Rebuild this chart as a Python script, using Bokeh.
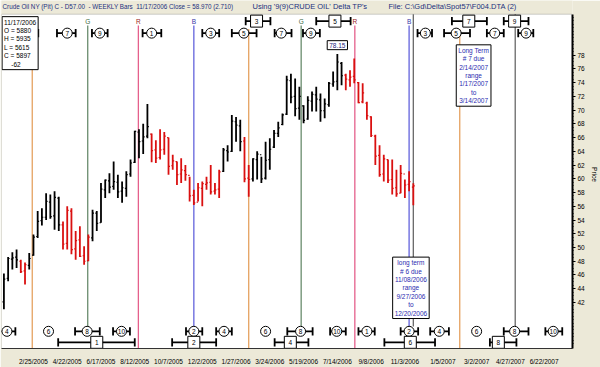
import pandas as pd
from bokeh.plotting import figure
from bokeh.models import Label, FixedTicker, Range1d, BoxAnnotation
from bokeh.core.properties import value
from bokeh.embed import file_html
from bokeh.resources import INLINE

FONT = "Liberation Sans"
DAY = 86400000
NB = "\u00a0"

# ---------------- data ----------------
first_bar = "2005-01-07"
opens = [42.1, 45.5, 48.3, 48.6, 48.0, 46.6, 47.4, 48.9, 51.6, 53.9,
         54.4, 56.6, 54.6, 57.2, 53.3, 50.6, 55.3, 49.8, 51.1, 48.8,
         48.1, 51.4, 55.0, 53.6, 58.4, 59.7, 58.9, 59.5, 58.2, 58.6,
         60.7, 62.4, 66.8, 65.5, 66.2, 66.5, 64.2, 63.1, 64.3, 66.0,
         61.9, 62.5, 60.7, 61.2, 60.5, 57.6, 56.6, 58.6, 59.2, 59.5,
         58.2, 58.5, 61.1, 64.1, 64.0, 68.3, 67.7, 65.5, 60.1, 60.0,
         62.8, 63.5, 60.1, 62.8, 64.6, 66.6, 67.9, 69.4, 74.3, 72.0,
         70.3, 70.6, 68.7, 71.3, 72.2, 71.5, 69.9, 70.8, 73.8, 74.2,
         76.8, 75.1, 74.4, 74.9, 74.0, 71.2, 71.0, 69.0, 66.2, 63.4,
         60.7, 62.8, 59.9, 58.7, 57.9, 60.7, 59.2, 58.80]
highs = [46.2, 48.6, 49.3, 49.7, 48.2, 47.8, 49.2, 51.9, 55.3, 55.7,
         57.9, 57.7, 58.2, 57.4, 53.8, 56.0, 55.7, 52.4, 53.1, 50.2,
         51.9, 55.5, 55.3, 59.4, 59.9, 60.8, 62.5, 60.6, 59.6, 61.1,
         62.8, 67.0, 67.2, 68.0, 70.9, 66.6, 65.6, 67.2, 66.8, 66.0,
         63.5, 62.5, 63.0, 62.0, 60.3, 58.4, 59.4, 59.6, 60.3, 62.0,
         59.4, 61.3, 64.5, 64.9, 69.3, 69.0, 68.6, 66.1, 62.0, 63.0,
         64.0, 63.2, 65.4, 65.9, 67.1, 68.3, 69.5, 75.0, 75.3, 74.6,
         73.4, 70.7, 72.0, 72.7, 73.4, 72.4, 71.7, 74.1, 75.6, 78.15,
         77.0, 75.3, 75.8, 77.5, 74.1, 73.9, 71.2, 69.1, 66.4, 64.9,
         63.5, 62.8, 62.8, 61.3, 62.0, 59.9, 61.1, 59.35]
lows = [41.0, 45.1, 46.8, 47.0, 46.3, 44.6, 46.8, 48.8, 51.4, 53.2,
        54.0, 54.2, 52.6, 52.4, 49.7, 49.7, 49.0, 48.2, 48.6, 47.5,
        48.0, 50.9, 52.4, 53.6, 57.2, 57.9, 58.4, 57.2, 56.5, 57.4,
        60.3, 62.3, 63.0, 63.6, 65.9, 62.4, 62.3, 62.8, 63.5, 60.6,
        61.3, 59.1, 59.4, 59.7, 56.7, 56.2, 56.7, 56.0, 58.4, 57.7,
        57.7, 57.2, 61.0, 62.5, 63.9, 65.4, 64.0, 59.5, 57.4, 59.6,
        59.9, 59.4, 59.9, 61.3, 64.5, 66.1, 67.8, 69.3, 71.0, 69.1,
        68.6, 68.1, 68.6, 69.8, 69.8, 68.3, 68.8, 70.5, 73.4, 72.9,
        73.6, 72.9, 73.4, 73.9, 71.0, 71.0, 68.6, 66.1, 62.0, 60.3,
        59.6, 59.4, 57.7, 57.4, 57.9, 57.2, 58.2, 56.15]
closes = [45.4, 48.4, 48.5, 48.2, 46.5, 47.5, 48.4, 51.5, 53.8, 54.4,
          56.7, 54.5, 57.3, 53.3, 50.5, 55.4, 49.7, 51.0, 48.7, 48.0,
          51.5, 55.0, 53.5, 58.5, 59.8, 58.8, 59.6, 58.1, 58.7, 60.6,
          62.3, 66.9, 65.4, 66.1, 67.6, 64.1, 63.0, 64.2, 66.2, 61.8,
          62.6, 60.6, 61.3, 60.6, 57.5, 56.5, 58.7, 59.3, 59.4, 58.1,
          58.4, 61.0, 64.2, 63.9, 68.4, 67.8, 65.4, 60.0, 59.9, 62.9,
          63.6, 60.0, 62.7, 64.3, 66.6, 67.4, 69.3, 74.4, 71.9, 70.2,
          72.0, 68.5, 71.4, 72.3, 71.6, 69.9, 70.9, 73.9, 74.1, 77.0,
          75.0, 74.5, 74.8, 74.4, 71.1, 72.5, 69.2, 66.3, 63.3, 60.6,
          62.9, 59.8, 58.6, 57.8, 60.8, 59.1, 59.6, 58.97]
# phase of each bar: k = normal (black), r = declining phase (red)
bar_phase = ("k" * 4 + "r" * 2 + "k" * 8 + "r" * 7 + "k" * 14 + "r" * 17 +
             "k" * 5 + "r" * 2 + "k" * 22 + "r" * 17)

date_tick_dates = ["2005-02-25", "2005-04-22", "2005-06-17", "2005-08-12",
                   "2005-10-07", "2005-12-02", "2006-01-27", "2006-03-24", "2006-05-19",
                   "2006-07-14", "2006-09-08", "2006-11-03", "2007-01-05", "2007-03-02",
                   "2007-04-27", "2007-06-22"]
date_tick_labels = ["2/25/2005", "4/22/2005", "6/17/2005", "8/12/2005",
                    "10/7/2005", "12/2/2005", "1/27/2006", "3/24/2006", "5/19/2006",
                    "7/14/2006", "9/8/2006", "11/3/2006", "1/5/2007", "3/2/2007",
                    "4/27/2007", "6/22/2007"]
price_ticks = [42, 44, 46, 48, 50, 52, 54, 56, 58, 60, 62, 64, 66, 68, 70, 72, 74, 76, 78]

# cycle lines
cycle_line_dates = ["2005-02-23", "2005-05-26", "2005-08-18", "2005-11-18", "2006-02-17",
                    "2006-05-15", "2006-08-12", "2006-11-10", "2006-11-17", "2007-02-02",
                    "2007-05-05"]
cycle_line_kinds = ["orange", "green", "red", "blue", "orange", "green", "red", "blue",
                    "gray", "orange", "gray"]
letter_dates = ["2005-05-26", "2005-08-18", "2005-11-18", "2006-05-15", "2006-08-12", "2006-11-10"]
letters = ["G", "R", "B", "G", "R", "B"]

# top cycle markers (circles)
top_circle_labels = ["5", "7", "9", "1", "3", "5", "7", "9", "3", "5", "7", "9"]
top_circle_dates = ["2005-02-17", "2005-04-22", "2005-06-15", "2005-09-09", "2005-12-16",
                    "2006-02-09", "2006-04-12", "2006-05-31", "2006-12-07", "2007-01-27",
                    "2007-04-01", "2007-05-23"]
top_circle_from = ["2005-01-30", "2005-04-05", "2005-06-02", "2005-08-25", "2005-12-02",
                   "2006-01-20", "2006-04-01", "2006-05-18", "2006-11-24", "2007-01-07",
                   "2007-03-19", "2007-05-10"]
top_circle_to = ["2005-03-05", "2005-05-06", "2005-06-28", "2005-09-25", "2005-12-30",
                 "2006-03-02", "2006-04-29", "2006-06-15", "2006-12-18", "2007-02-19",
                 "2007-04-16", "2007-06-04"]
# top cycle markers (boxes)
top_box_labels = ["3", "5", "7", "9"]
top_box_dates = ["2006-03-02", "2006-07-10", "2007-02-17", "2007-05-04"]
top_box_from = ["2006-02-12", "2006-06-09", "2007-01-20", "2007-04-16"]
top_box_to = ["2006-03-25", "2006-08-05", "2007-03-19", "2007-05-27"]
# bottom cycle markers (circles)
bot_circle_labels = ["4", "6", "8", "10", "2", "4", "6", "8", "10", "1", "2", "4", "6", "8", "10"]
bot_circle_dates = ["2005-01-12", "2005-03-22", "2005-05-25", "2005-07-21", "2005-11-18",
                    "2006-01-07", "2006-03-17", "2006-05-14", "2006-07-13", "2006-09-01",
                    "2006-11-10", "2006-12-30", "2007-03-02", "2007-05-04", "2007-07-07"]
bot_circle_from = ["2004-12-28", None, "2005-05-05", "2005-07-07", "2005-11-05", "2005-12-25",
                   None, "2006-04-22", "2006-07-02", "2006-08-18", "2006-10-27", "2006-12-15",
                   None, "2007-04-16", "2007-06-24"]
bot_circle_to = ["2005-01-26", None, "2005-06-15", "2005-08-04", "2005-12-02", "2006-01-20",
                 None, "2006-06-03", "2006-07-28", "2006-09-14", "2006-11-25", "2007-01-15",
                 None, "2007-05-27", "2007-07-22"]
# bottom cycle markers (boxes)
bot_box_labels = ["1", "2", "4", "6", "8"]
bot_box_dates = ["2005-06-10", "2005-11-18", "2006-04-27", "2006-11-12", "2007-04-07"]
bot_box_from = ["2005-04-07", "2005-10-13", "2006-04-01", "2006-09-30", "2007-03-24"]
bot_box_to = ["2005-08-12", "2005-12-25", "2006-05-27", "2006-12-23", "2007-05-07"]

info_text = "11/17/2006\nO = 5880\nH = 5935\nL = 5615\nC = 5897\n" + NB * 4 + "-62"
peak_value = "78.15"
peak_date = "2006-07-14"
lt6_text = "long term\n# 6 due\n11/08/2006\nrange\n9/27/2006\nto\n12/20/2006"
lt7_text = "Long Term\n# 7 due\n2/14/2007\nrange\n1/17/2007\nto\n3/14/2007"
title_parts = ["Crude Oil NY (Pit) C - D57.00  - WEEKLY Bars  11/17/2006 Close = 58.970 (2.710)",
               "Using '9(9)CRUDE OIL' Delta TP's",
               "File: C:\\Gd\\Delta\\Spot57\\F004.DTA (2)"]

# ---------------- helpers ----------------
def ms(d):
    return pd.Timestamp(d).value // 10**6

COL = {"orange": "#E5A260", "green": "#6A8C6E", "red": "#E5608C", "blue": "#6363DC",
       "gray": "#686868"}
LETTER_COL = {"G": "#3E6B44", "R": "#9A1E1E", "B": "#3535A8"}
BAR_COL = {"k": "#000000", "r": "#DA1010"}

Y_LO, Y_HI = 35.3, 83.95        # price extent of the white plotting area
Y_TOP_CIRCLE, Y_TOP_BOX = 81.2, 82.95
Y_BOT_CIRCLE, Y_BOT_BOX = 37.8, 36.2
CAP = 0.6
BEIGE = "#ECE9D8"

W, H = 600, 367
p = figure(width=W, height=H, x_axis_type="datetime", y_axis_location="right",
           x_range=Range1d(ms("2005-01-03"), ms("2007-08-08")),
           y_range=Range1d(Y_LO, 85.95),
           output_backend="svg", toolbar_location=None,
           min_border_left=1, min_border_right=22, min_border_top=0, min_border_bottom=18)
p.background_fill_color = BEIGE
p.border_fill_color = BEIGE
p.outline_line_color = None
p.grid.visible = False

# white plotting area (title band above it stays beige)
p.add_layout(BoxAnnotation(bottom=Y_LO, top=Y_HI, fill_color="white", fill_alpha=1,
                           line_color="#6A6A6A", line_width=1, level="underlay"))

# x axis
tick_ms = [ms(d) for d in date_tick_dates]
xa = p.xaxis[0]
xa.ticker = FixedTicker(ticks=tick_ms)
xa.major_label_overrides = {t: lab for t, lab in zip(tick_ms, date_tick_labels)}
xa.major_tick_line_color = None
xa.minor_tick_line_color = None
xa.major_label_text_font_size = "6.5px"
xa.major_label_text_font = FONT
xa.major_label_text_color = "black"
xa.major_label_standoff = 3
xa.axis_line_color = "#333333"

# y axis
ya = p.yaxis[0]
minor = [v / 2 for v in range(72, 168)]
ya.ticker = FixedTicker(ticks=price_ticks, minor_ticks=minor)
ya.bounds = (Y_LO, Y_HI)
ya.major_label_text_font_size = "6.5px"
ya.major_label_text_font = FONT
ya.major_label_text_color = "black"
ya.major_tick_out = 3
ya.major_tick_in = 0
ya.minor_tick_out = 1
ya.minor_tick_in = 0
ya.major_label_standoff = 2
ya.axis_line_width = 2
ya.axis_line_color = "black"
ya.axis_label = "Price"
ya.axis_label_text_font = FONT
ya.axis_label_text_font_size = "6.5px"
ya.axis_label_text_font_style = "normal"
ya.axis_label_text_color = "black"
ya.axis_label_standoff = 3

# cycle lines
for d, k in zip(cycle_line_dates, cycle_line_kinds):
    top = {"orange": 81.8, "green": 82.3, "red": 82.3, "blue": 82.3, "gray": Y_HI}[k]
    bottom = 38.5 if k in ("green", "blue", "gray") else Y_LO
    p.segment(x0=[ms(d)], y0=[bottom], x1=[ms(d)], y1=[top], line_color=COL[k], line_width=1.3)

p.text(x=[ms(d) for d in letter_dates], y=[82.95] * len(letters), text=letters,
       text_color=[LETTER_COL[l] for l in letters], text_font=value(FONT),
       text_font_size="6.5px", text_align="center", text_baseline="middle")

# bars
xs = [t.value // 10**6 for t in pd.date_range(first_bar, periods=len(highs), freq="7D")]
cols = [BAR_COL[c] for c in bar_phase]
p.segment(x0=xs, y0=lows, x1=xs, y1=highs, line_color=cols, line_width=1.8)
p.segment(x0=[x - 2.4 * DAY for x in xs], y0=opens, x1=xs, y1=opens, line_color=cols, line_width=1.2)
p.segment(x0=xs, y0=closes, x1=[x + 2.4 * DAY for x in xs], y1=closes, line_color=cols, line_width=1.2)

# brackets and markers
def brackets(froms, tos, y):
    pairs = [(a, b) for a, b in zip(froms, tos) if a is not None]
    x0 = [ms(a) for a, _ in pairs]
    x1 = [ms(b) for _, b in pairs]
    p.segment(x0=x0, y0=[y] * len(x0), x1=x1, y1=[y] * len(x0), line_color="black", line_width=1.8)
    caps = x0 + x1
    p.segment(x0=caps, y0=[y - CAP] * len(caps), x1=caps, y1=[y + CAP] * len(caps),
              line_color="black", line_width=1.8)

def markers(dates, labels, y, marker, size):
    xx = [ms(d) for d in dates]
    p.scatter(x=xx, y=[y] * len(xx), marker=marker, size=size, fill_color="white",
              line_color="black", line_width=1)
    p.text(x=xx, y=[y] * len(xx), text=labels, text_font=value(FONT), text_font_size="6.5px",
           text_align="center", text_baseline="middle", text_color="black")

brackets(top_circle_from, top_circle_to, Y_TOP_CIRCLE)
brackets(top_box_from, top_box_to, Y_TOP_BOX)
brackets(bot_circle_from, bot_circle_to, Y_BOT_CIRCLE)
brackets(bot_box_from, bot_box_to, Y_BOT_BOX)
markers(top_circle_dates, top_circle_labels, Y_TOP_CIRCLE, "circle", 10)
markers(top_box_dates, top_box_labels, Y_TOP_BOX, "square", 12)
markers(bot_circle_dates, bot_circle_labels, Y_BOT_CIRCLE, "circle", 10)
markers(bot_box_dates, bot_box_labels, Y_BOT_BOX, "square", 12)

# annotation boxes
def box_label(x, y, text, color, align="center", baseline="top", **kw):
    lab = Label(x=x, y=y, text=text, text_color=color, text_font=FONT, text_font_size="6.5px",
                text_align=align, text_baseline=baseline, text_line_height=1.2,
                border_line_color="black", border_line_width=1,
                background_fill_color="white", padding=2, **kw)
    p.add_layout(lab)

box_label(ms(peak_date), 79.45, peak_value, "#1A1A7A", baseline="middle")
box_label(ms("2006-11-13"), 48.6, lt6_text, "#2B2BB0")
box_label(ms("2007-02-25"), 79.5, lt7_text, "#2B2BB0")
box_label(ms("2005-01-04"), 83.6, info_text, "black", align="left")

# title texts in the beige band above the plotting area
for sx, txt, fs in zip([1, 251, 387], title_parts, ["6.3px", "7.5px", "7.5px"]):
    p.add_layout(Label(x=sx, y=85.08, x_units="screen", text=txt.replace("  ", " " + NB),
                       text_color="#22307E", text_font=FONT, text_font_size=fs,
                       text_baseline="middle", text_align="left"))

open("out.html", "w").write(file_html(p, INLINE))
